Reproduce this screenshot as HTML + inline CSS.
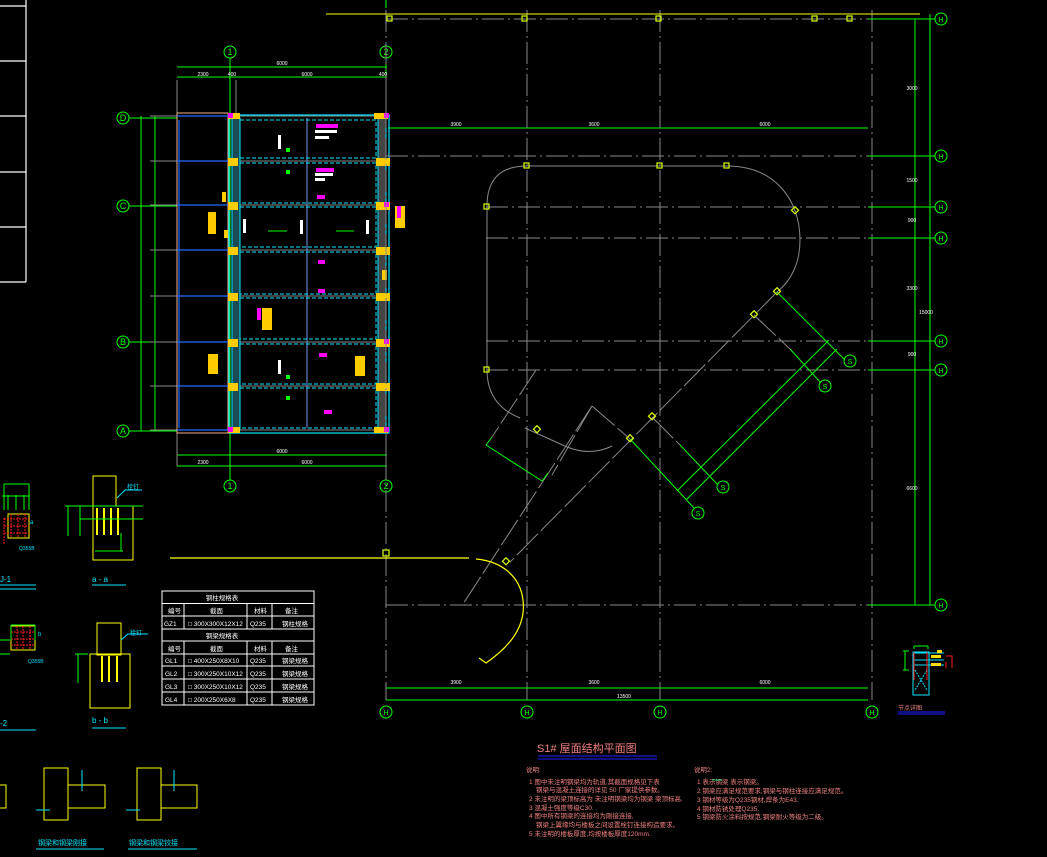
<!DOCTYPE html>
<html><head><meta charset="utf-8"><style>
html,body{margin:0;padding:0;background:#000;}
svg{display:block;}
text{font-family:"Liberation Sans","Noto Sans CJK SC",sans-serif;}
</style></head><body>
<svg width="1047" height="857" viewBox="0 0 1047 857" xmlns="http://www.w3.org/2000/svg">
<rect width="1047" height="857" fill="#000"/>

<!-- left white table -->
<g stroke="#fff" stroke-width="1.2" fill="none">
<line x1="26" y1="0" x2="26" y2="282"/>
<line x1="0" y1="6" x2="26" y2="6"/><line x1="0" y1="61" x2="26" y2="61"/>
<line x1="0" y1="116" x2="26" y2="116"/><line x1="0" y1="172" x2="26" y2="172"/>
<line x1="0" y1="227" x2="26" y2="227"/><line x1="0" y1="282" x2="26" y2="282"/>
</g>

<!-- ===== LEFT PLAN ===== -->
<g stroke="#00ff00" stroke-width="1" fill="none">
<line x1="230" y1="58" x2="230" y2="480"/>
<line x1="386" y1="58" x2="386" y2="480"/>
<line x1="177" y1="67" x2="387" y2="67"/>
<line x1="177" y1="77" x2="387" y2="77"/>
<line x1="177" y1="455" x2="387" y2="455"/>
<line x1="177" y1="466" x2="387" y2="466"/>
<line x1="141" y1="116" x2="141" y2="431"/>
<line x1="155" y1="116" x2="155" y2="431"/>
<line x1="129" y1="118" x2="177" y2="118"/>
<line x1="129" y1="206" x2="177" y2="206"/>
<line x1="129" y1="342" x2="177" y2="342"/>
<line x1="129" y1="431" x2="177" y2="431"/>
<line x1="388" y1="128" x2="868" y2="128"/>
<circle cx="230" cy="52" r="6"/><circle cx="386" cy="52" r="6"/>
<circle cx="230" cy="486" r="6"/><circle cx="386" cy="486" r="6"/>
<circle cx="123" cy="118" r="6"/><circle cx="123" cy="206" r="6"/>
<circle cx="123" cy="342" r="6"/><circle cx="123" cy="431" r="6"/>
</g>
<g fill="#00ff00" font-size="9" text-anchor="middle">
<text x="230" y="55">1</text><text x="386" y="55">2</text>
<text x="230" y="489">1</text><text x="386" y="489">2</text>
<text x="123" y="121">D</text><text x="123" y="209">C</text>
<text x="123" y="345">B</text><text x="123" y="434">A</text>
</g>
<g stroke="#888" stroke-width="1">
<line x1="177" y1="80" x2="177" y2="466"/>
<line x1="386" y1="80" x2="386" y2="466"/>
<line x1="236" y1="80" x2="236" y2="118"/>
</g>
<g stroke="#888" stroke-width="1">
<line x1="150" y1="116" x2="390" y2="116"/><line x1="150" y1="161" x2="390" y2="161"/>
<line x1="150" y1="205" x2="390" y2="205"/><line x1="150" y1="250" x2="390" y2="250"/>
<line x1="150" y1="296" x2="390" y2="296"/><line x1="150" y1="342" x2="390" y2="342"/>
<line x1="150" y1="386" x2="390" y2="386"/><line x1="150" y1="430" x2="390" y2="430"/>
</g>
<rect x="177" y="113" width="51" height="320" fill="none" stroke="#f4b183" stroke-width="1"/>
<g stroke="#1e6cff" stroke-width="1.2">
<line x1="177" y1="116" x2="228" y2="116"/><line x1="177" y1="161" x2="228" y2="161"/>
<line x1="177" y1="205" x2="228" y2="205"/><line x1="177" y1="250" x2="228" y2="250"/>
<line x1="177" y1="296" x2="228" y2="296"/><line x1="177" y1="342" x2="228" y2="342"/>
<line x1="177" y1="386" x2="228" y2="386"/><line x1="177" y1="430" x2="228" y2="430"/>
<line x1="179" y1="120" x2="179" y2="428"/>
<line x1="307" y1="118" x2="307" y2="428" stroke="#6080c0"/>
</g>
<rect x="229" y="115" width="160" height="318" fill="none" stroke="#00e5ff" stroke-width="1.2"/>
<rect x="232" y="118" width="8" height="312" fill="#1a4a55" stroke="#00e5ff" stroke-width="1"/>
<rect x="378" y="118" width="8" height="312" fill="#444" stroke="#00e5ff" stroke-width="1"/>
<g fill="none" stroke="#00e5ff" stroke-width="1" stroke-dasharray="4,2">
<rect x="240" y="120" width="136" height="38"/><rect x="240" y="163" width="136" height="40"/>
<rect x="240" y="207" width="136" height="40"/><rect x="240" y="252" width="136" height="42"/>
<rect x="240" y="298" width="136" height="41"/><rect x="240" y="344" width="136" height="40"/>
<rect x="240" y="388" width="136" height="40"/>
</g>
<g fill="#ffcc00">
<rect x="228" y="113" width="12" height="6"/><rect x="374" y="113" width="14" height="6"/>
<rect x="228" y="158" width="10" height="8"/><rect x="376" y="158" width="14" height="8"/>
<rect x="228" y="202" width="10" height="8"/><rect x="376" y="202" width="14" height="8"/>
<rect x="228" y="247" width="10" height="8"/><rect x="376" y="247" width="14" height="8"/>
<rect x="228" y="293" width="10" height="8"/><rect x="376" y="293" width="14" height="8"/>
<rect x="228" y="339" width="10" height="8"/><rect x="376" y="339" width="14" height="8"/>
<rect x="228" y="383" width="10" height="8"/><rect x="376" y="383" width="14" height="8"/>
<rect x="228" y="427" width="12" height="6"/><rect x="374" y="427" width="14" height="6"/>
<rect x="208" y="212" width="8" height="22"/><rect x="395" y="206" width="10" height="22"/>
<rect x="262" y="308" width="10" height="22"/><rect x="208" y="354" width="10" height="20"/>
<rect x="355" y="356" width="10" height="20"/><rect x="222" y="192" width="4" height="10"/>
<rect x="382" y="270" width="5" height="10"/><rect x="224" y="230" width="4" height="8"/>
</g>
<g fill="#ff00ff">
<rect x="228" y="113" width="5" height="5"/><rect x="384" y="113" width="5" height="5"/>
<rect x="384" y="202" width="5" height="5"/><rect x="384" y="339" width="5" height="5"/>
<rect x="228" y="427" width="5" height="5"/><rect x="384" y="427" width="5" height="5"/>
<rect x="316" y="124" width="22" height="4"/><rect x="316" y="168" width="18" height="4"/>
<rect x="317" y="195" width="8" height="4"/><rect x="318" y="260" width="7" height="4"/>
<rect x="318" y="289" width="7" height="4"/><rect x="319" y="353" width="8" height="4"/>
<rect x="324" y="410" width="8" height="4"/><rect x="397" y="206" width="4" height="12"/>
<rect x="257" y="308" width="4" height="12"/>
</g>
<g fill="#fff">
<rect x="315" y="130" width="22" height="3"/><rect x="315" y="136" width="14" height="3"/>
<rect x="315" y="173" width="18" height="3"/><rect x="315" y="178" width="10" height="3"/>
<rect x="278" y="135" width="3" height="14"/><rect x="278" y="360" width="3" height="14"/>
<rect x="243" y="219" width="3" height="14"/><rect x="300" y="220" width="3" height="14"/>
<rect x="366" y="220" width="3" height="14"/>
</g>
<g fill="#00ff00"><rect x="286" y="148" width="4" height="4"/><rect x="286" y="170" width="4" height="4"/><rect x="286" y="375" width="4" height="4"/><rect x="286" y="396" width="4" height="4"/></g>
<g stroke="#00ff00"><line x1="268" y1="231" x2="287" y2="231"/><line x1="336" y1="231" x2="354" y2="231"/></g>
<g fill="#fff" font-size="5" text-anchor="middle">
<text x="282" y="65">6000</text><text x="203" y="76">2300</text><text x="232" y="76">400</text><text x="307" y="76">6000</text><text x="383" y="76">400</text>
<text x="282" y="453">6000</text><text x="203" y="464">2300</text><text x="307" y="464">6000</text>
</g>

<!-- ===== RIGHT PLAN ===== -->
<g stroke="#888" stroke-width="1" stroke-dasharray="22,4,2,4" fill="none">
<line x1="386" y1="10" x2="386" y2="700"/>
<line x1="527" y1="10" x2="527" y2="700"/>
<line x1="660" y1="10" x2="660" y2="700"/>
<line x1="872" y1="10" x2="872" y2="700"/>
<line x1="386" y1="19" x2="915" y2="19"/>
<line x1="386" y1="156" x2="915" y2="156"/>
<line x1="486" y1="207" x2="915" y2="207"/>
<line x1="486" y1="238" x2="915" y2="238"/>
<line x1="486" y1="341" x2="915" y2="341"/>
<line x1="486" y1="370" x2="915" y2="370"/>
<line x1="386" y1="605" x2="915" y2="605"/>
</g>
<line x1="326" y1="14" x2="920" y2="14" stroke="#ffff00" stroke-width="1"/>
<!-- rounded outline -->
<path d="M487,370 L487,206 Q487,166 527,166 L727,166 C775,166 800,200 800,240 C800,262 792,280 777,292" fill="none" stroke="#888" stroke-width="1"/>
<path d="M487,370 C487,395 500,410 520,418 M525,428 L567,447 C585,454 600,452 612,446" fill="none" stroke="#888" stroke-width="1"/>
<g stroke="#888" stroke-width="1" fill="none" stroke-dasharray="30,4">
<line x1="777" y1="292" x2="510" y2="562"/>
<line x1="536" y1="370" x2="492" y2="437"/>
<line x1="592" y1="406" x2="552" y2="475"/>
<line x1="592" y1="406" x2="630" y2="439"/>
<line x1="592" y1="406" x2="463" y2="604"/>
<line x1="754" y1="315" x2="790" y2="349"/>
<line x1="652" y1="417" x2="680" y2="445"/>
</g>
<!-- green dims -->
<g stroke="#00ff00" stroke-width="1" fill="none">
<line x1="777" y1="292" x2="845" y2="360"/>
<line x1="790" y1="349" x2="821" y2="383"/>
<line x1="829" y1="340" x2="677" y2="491"/>
<line x1="837" y1="349" x2="686" y2="500"/>
<line x1="680" y1="445" x2="718" y2="485"/>
<line x1="630" y1="439" x2="694" y2="508"/>
<line x1="486" y1="445" x2="542" y2="481"/>
<line x1="486" y1="445" x2="492" y2="437"/>
<line x1="542" y1="481" x2="548" y2="473"/>
<line x1="915" y1="19" x2="915" y2="605"/>
<line x1="930" y1="14" x2="930" y2="605"/>
<line x1="868" y1="19" x2="935" y2="19"/>
<line x1="868" y1="156" x2="935" y2="156"/>
<line x1="868" y1="207" x2="935" y2="207"/>
<line x1="868" y1="238" x2="935" y2="238"/>
<line x1="868" y1="341" x2="935" y2="341"/>
<line x1="868" y1="370" x2="935" y2="370"/>
<line x1="868" y1="605" x2="935" y2="605"/>
<line x1="386" y1="688" x2="868" y2="688"/>
<line x1="386" y1="700" x2="868" y2="700"/>
<line x1="386" y1="0" x2="386" y2="8"/>
<circle cx="941" cy="19" r="6"/><circle cx="941" cy="156" r="6"/><circle cx="941" cy="207" r="6"/>
<circle cx="941" cy="238" r="6"/><circle cx="941" cy="341" r="6"/><circle cx="941" cy="370" r="6"/>
<circle cx="941" cy="605" r="6"/>
<circle cx="386" cy="712" r="6"/><circle cx="527" cy="712" r="6"/><circle cx="660" cy="712" r="6"/><circle cx="872" cy="712" r="6"/>
<circle cx="850" cy="361" r="6"/><circle cx="825" cy="386" r="6"/><circle cx="723" cy="487" r="6"/><circle cx="698" cy="513" r="6"/>
</g>
<g fill="#00ff00" font-size="7" text-anchor="middle">
<text x="941" y="22">H</text><text x="941" y="159">H</text><text x="941" y="210">H</text><text x="941" y="241">H</text>
<text x="941" y="344">H</text><text x="941" y="373">H</text><text x="941" y="608">H</text>
<text x="386" y="715">H</text><text x="527" y="715">H</text><text x="660" y="715">H</text><text x="872" y="715">H</text>
<text x="850" y="364">S</text><text x="825" y="389">S</text><text x="723" y="490">S</text><text x="698" y="516">S</text>
</g>
<g fill="#fff" font-size="5" text-anchor="middle">
<text x="456" y="126">3900</text><text x="594" y="126">3600</text><text x="765" y="126">6000</text>
<text x="456" y="684">3900</text><text x="594" y="684">3600</text><text x="765" y="684">6000</text><text x="624" y="698">13500</text>
<text x="912" y="90">3000</text><text x="912" y="182">1500</text><text x="912" y="222">900</text><text x="912" y="290">3300</text><text x="912" y="356">900</text><text x="912" y="490">6600</text><text x="926" y="314">15000</text>
</g>
<!-- yellow column markers -->
<g fill="none" stroke="#ddff00" stroke-width="1.2">
<rect x="387" y="16" width="5" height="5"/><rect x="522" y="16" width="5" height="5"/><rect x="656" y="16" width="5" height="5"/>
<rect x="812" y="16" width="5" height="5"/><rect x="847" y="16" width="5" height="5"/>
<rect x="524" y="163" width="5" height="5"/><rect x="657" y="163" width="5" height="5"/><rect x="724" y="163" width="5" height="5"/>
<rect x="484" y="204" width="5" height="5"/><rect x="484" y="367" width="5" height="5"/>
<rect x="792" y="208" width="5" height="5" transform="rotate(45 795 211)"/>
<rect x="774" y="289" width="5" height="5" transform="rotate(45 777 292)"/>
<rect x="751" y="312" width="5" height="5" transform="rotate(45 754 315)"/>
<rect x="649" y="414" width="5" height="5" transform="rotate(45 652 417)"/>
<rect x="627" y="436" width="5" height="5" transform="rotate(45 630 439)"/>
<rect x="534" y="427" width="5" height="5" transform="rotate(45 537 430)"/>
<rect x="503" y="559" width="5" height="5" transform="rotate(45 506 562)"/>
<rect x="383" y="550" width="6" height="6"/>
</g>
<!-- yellow curve -->
<line x1="170" y1="558" x2="469" y2="558" stroke="#ffff00" stroke-width="1.2"/>
<path d="M476,559 C500,561 520,575 523,600 C526,625 512,645 486,663 L479,658" fill="none" stroke="#ffff00" stroke-width="1.2"/>
<!-- small detail right -->
<g fill="none" stroke-width="1">
<rect x="913" y="652" width="16" height="43" stroke="#00e5ff"/>
<line x1="913" y1="653" x2="944" y2="653" stroke="#00e5ff"/><line x1="913" y1="660" x2="944" y2="660" stroke="#00e5ff"/><line x1="913" y1="665" x2="944" y2="665" stroke="#00e5ff"/>
<path d="M915,670 L927,690 M927,670 L915,690" stroke="#00e5ff" stroke-dasharray="2,1"/>
<path d="M914,652 L914,680 M927,652 L927,680" stroke="#ff2020"/>
<path d="M946,662 L946,668 M946,656 L952,656 L952,668" stroke="#ff2020"/>
<path d="M905,651 L905,670 M903,651 L909,651 M903,670 L909,670" stroke="#00ff00"/>
<path d="M914,646 L928,646 M914,646 L914,649 M928,646 L928,649" stroke="#00ff00"/>
<line x1="898" y1="712" x2="945" y2="712" stroke="#2020ff"/><line x1="898" y1="714" x2="945" y2="714" stroke="#2020ff"/>
</g>
<g fill="#ffdd00"><rect x="931" y="655" width="10" height="3"/><rect x="931" y="663" width="10" height="3"/><rect x="937" y="650" width="5" height="3"/></g>
<text x="898" y="710" fill="#f08080" font-size="6">节点详图</text>

<!-- title & notes -->
<text x="537" y="752" fill="#f08080" font-size="11">S1# 屋面结构平面图</text>
<line x1="538" y1="756" x2="657" y2="756" stroke="#2020ff" stroke-width="1"/>
<line x1="538" y1="759" x2="657" y2="759" stroke="#2020ff" stroke-width="1"/>
<g fill="#f08080" font-size="6.5">
<text x="526" y="772">说明:</text>
<text x="529" y="784">1  图中未注明钢梁均为轨道,其截面规格见下表</text>
<text x="536" y="792">钢梁与混凝土连接的详见    50  厂家提供参数。</text>
<text x="529" y="801">2  未注明的梁顶标高为    未注明钢梁均为钢梁         梁顶标高.</text>
<text x="529" y="810">3  混凝土强度等级C30.</text>
<text x="529" y="818">4  图中所有钢梁的连接均为刚接连接,</text>
<text x="536" y="827">钢梁上翼缘均与楼板之间设置栓钉连接构造要求。</text>
<text x="529" y="836">5  未注明的楼板厚度,均按楼板厚度120mm.</text>
<text x="694" y="772">说明2:</text>
<text x="697" y="784">1          表示钢梁           表示钢梁。</text>
<text x="697" y="793">2  钢梁应满足规范要求,钢梁与钢柱连接应满足规范。</text>
<text x="697" y="802">3  钢材等级为Q235钢材,焊条为E43.</text>
<text x="697" y="811">4  钢材防锈处理Q235.</text>
<text x="697" y="819">5  钢梁防火涂料按规范,钢梁耐火等级为二级。</text>
</g>
<line x1="712" y1="780" x2="722" y2="780" stroke="#00cc66"/>

<!-- table -->
<g stroke="#fff" stroke-width="1" fill="none">
<rect x="162" y="591" width="152" height="114"/>
<line x1="162" y1="603.5" x2="314" y2="603.5"/><line x1="162" y1="616" x2="314" y2="616"/>
<line x1="162" y1="629" x2="314" y2="629"/><line x1="162" y1="641" x2="314" y2="641"/>
<line x1="162" y1="654" x2="314" y2="654"/><line x1="162" y1="666" x2="314" y2="666"/>
<line x1="162" y1="679" x2="314" y2="679"/><line x1="162" y1="692" x2="314" y2="692"/>
<line x1="184" y1="603.5" x2="184" y2="629"/><line x1="247" y1="603.5" x2="247" y2="629"/><line x1="272" y1="603.5" x2="272" y2="629"/>
<line x1="184" y1="641" x2="184" y2="705"/><line x1="247" y1="641" x2="247" y2="705"/><line x1="272" y1="641" x2="272" y2="705"/>
</g>
<g fill="#fff" font-size="6.5">
<text x="222" y="600" text-anchor="middle">钢柱规格表</text>
<text x="168" y="613">编号</text><text x="210" y="613">截面</text><text x="254" y="613">材料</text><text x="285" y="613">备注</text>
<text x="164" y="626">GZ1</text><text x="188" y="626">□ 300X300X12X12</text><text x="250" y="626">Q235</text><text x="282" y="626">钢柱规格</text>
<text x="222" y="638" text-anchor="middle">钢梁规格表</text>
<text x="168" y="651">编号</text><text x="210" y="651">截面</text><text x="254" y="651">材料</text><text x="285" y="651">备注</text>
<text x="165" y="663">GL1</text><text x="188" y="663">□ 400X250X8X10</text><text x="250" y="663">Q235</text><text x="282" y="663">钢梁规格</text>
<text x="165" y="676">GL2</text><text x="188" y="676">□ 300X250X10X12</text><text x="250" y="676">Q235</text><text x="282" y="676">钢梁规格</text>
<text x="165" y="689">GL3</text><text x="188" y="689">□ 300X250X10X12</text><text x="250" y="689">Q235</text><text x="282" y="689">钢梁规格</text>
<text x="165" y="702">GL4</text><text x="188" y="702">□ 200X250X6X8</text><text x="250" y="702">Q235</text><text x="282" y="702">钢梁规格</text>
</g>

<!-- left details -->
<g fill="none" stroke-width="1">
<rect x="8" y="514" width="21" height="24" stroke="#ffff00"/>
<path d="M4,518 L4,545 M11,514 L11,538 M18,514 L18,538 M25,514 L25,538 M4,519 L29,519 M4,526 L29,526 M4,533 L29,533" stroke="#ff2020" stroke-dasharray="2,1"/>
<path d="M4,484 L29,484 M4,484 L4,510 M29,484 L29,510 M8,495 L8,510 M16,495 L16,510 M24,495 L24,510 M2,496 L30,496" stroke="#00ff00"/>
<path d="M0,585 L36,585 M0,589 L36,589" stroke="#00e5ff"/>
<rect x="93" y="476" width="23" height="30" stroke="#ffff00"/>
<rect x="93" y="506" width="40" height="54" stroke="#ffff00"/>
<path d="M97,508 L97,535 M104,508 L104,535 M111,508 L111,535 M118,508 L118,535" stroke="#ffff00" stroke-width="2"/>
<path d="M68,506 L68,536 M65,506 L143,506 M80,519 L143,519 M80,536 L80,506 M95,551 L123,551 M121,533 L121,551" stroke="#00ff00"/>
<path d="M92,585 L126,585" stroke="#00e5ff"/>
<path d="M117,498 L125,490 L142,490" stroke="#00e5ff"/>
<rect x="11" y="626" width="24" height="24" stroke="#ffff00"/>
<path d="M11,632 L35,632 M11,639 L35,639 M11,645 L35,645 M17,626 L17,650 M23,626 L23,650 M30,626 L30,650" stroke="#ff2020" stroke-dasharray="2,1"/>
<path d="M11,625 L35,625 M11,625 L11,640 M35,625 L35,640 M0,640 L10,640 M0,654 L10,654" stroke="#00ff00"/>
<path d="M0,730 L36,730" stroke="#00e5ff"/>
<rect x="97" y="623" width="24" height="32" stroke="#ffff00"/>
<rect x="90" y="654" width="40" height="54" stroke="#ffff00"/>
<path d="M102,656 L102,682 M109,656 L109,682 M117,656 L117,682" stroke="#ffff00" stroke-width="2"/>
<path d="M78,654 L78,683 M75,654 L88,654" stroke="#00ff00"/>
<path d="M92,728 L126,728 M121,640 L128,634 L148,634" stroke="#00e5ff"/>
<rect x="44" y="768" width="24" height="52" stroke="#ffff00"/>
<path d="M68,785 L105,785 L105,808 L68,808" stroke="#ffff00"/>
<rect x="137" y="768" width="24" height="52" stroke="#ffff00"/>
<path d="M161,785 L197,785 L197,808 L161,808" stroke="#ffff00"/>
<path d="M0,785 L6,785 L6,808 L0,808" stroke="#ffff00"/>
<path d="M36,849 L104,849 M128,849 L197,849" stroke="#00e5ff"/>
<path d="M82,770 L82,791 M174,770 L174,791 M36,810 L50,810 M126,810 L140,810" stroke="#00e5ff"/>
</g>
<g fill="#00e5ff" font-size="8">
<text x="0" y="582">J-1</text><text x="92" y="582">a - a</text>
<text x="0" y="726">-2</text><text x="92" y="723">b - b</text>
<text x="38" y="845" font-size="7">钢梁和钢梁刚接</text><text x="129" y="845" font-size="7">钢梁和钢梁铰接</text>
<text x="127" y="489" font-size="6">栓钉</text><text x="130" y="635" font-size="6">栓钉</text>
<text x="30" y="524" font-size="6">a</text><text x="38" y="636" font-size="6">b</text>
<text x="19" y="550" font-size="5">Q355B</text><text x="28" y="663" font-size="5">Q355B</text>
</g>
</svg>
</body></html>
